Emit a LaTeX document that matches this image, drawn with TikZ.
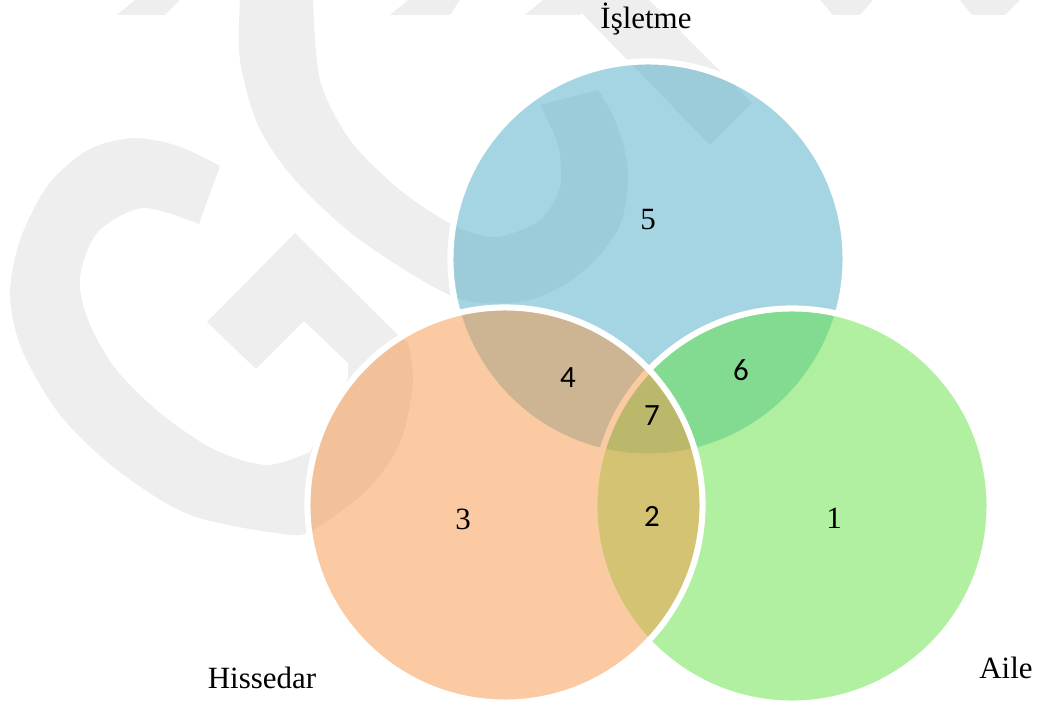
\documentclass[tikz,border=0pt]{standalone}
\usepackage{fontspec}
\setmainfont{Liberation Serif}
\newfontfamily\numsans{Carlito}
\definecolor{isletmeblue}{HTML}{4BACC6}
\definecolor{ailegreen}{HTML}{61E141}
\definecolor{hissedarorange}{HTML}{F79646}
\definecolor{wmgrey}{HTML}{EEEEEE}
\begin{document}
\begin{tikzpicture}[x=0.025cm, y=-0.025cm,
    wm/.style={fill=wmgrey},
    set/.style={fill opacity=0.5},
    rim/.style={draw=white, line width=4.3pt},
    lbl/.style={anchor=base, font=\fontsize{22}{26}\selectfont},
    snum/.style={anchor=base, font=\numsans\fontsize{22}{26}\selectfont}]
  \useasboundingbox (0,0) rectangle (1041,701);
  % watermark
  \fill[wm] plot[smooth] coordinates {(220,166) (178,146) (133,138) (88,150) (48,185) (20,240) (10,295) (22,350) (60,415) (117,470) (190,515) (283,534) (313,530) (367,490) (400,443) (413,383) (408,343)}
    -- (398,335) -- (295,233) -- (207,322) -- (256,369) -- (304,321) -- (348,363) -- (348,378) -- (310,452)
    -- plot[smooth] coordinates {(310,452) (267,465) (215,450) (160,413) (115,368) (88,320) (80,277) (98,232) (143,208) (199,224)} -- cycle;
  \fill[wm] plot[smooth] coordinates {(240,-2) (240,60) (258,125) (295,180) (360,240) (457,298) (530,300) (585,270) (620,225) (628,170) (615,120) (598,90)}
    -- (540,105)
    -- plot[smooth] coordinates {(540,105) (558,145) (560,187) (540,220) (497,237) (455,226) (400,190) (350,140) (320,80) (313,-2)} -- cycle;
  \fill[wm] (567,-2) -- (710,145) -- (752,103) -- (647,-2) -- cycle;
  \fill[wm] (117,15) -- (135,0) -- (180,0) -- (165,15) -- cycle;
  \fill[wm] (390,15) -- (408,0) -- (460,0) -- (450,15) -- cycle;
  \fill[wm] (525,15) -- (543,0) -- (590,0) -- (580,15) -- cycle;
  \fill[wm] (820,0) -- (873,0) -- (860,15) -- (833,15) -- cycle;
  \fill[wm] (960,0) -- (1020,0) -- (1005,15) -- (972,15) -- cycle;
  % sets
  \coordinate (cI) at (648,259);
  \coordinate (cA) at (792,506);
  \coordinate (cH) at (505,505);
  \fill[set, fill=isletmeblue] (cI) circle[radius=4.9375cm];
  \draw[rim] (cI) circle[radius=4.9375cm];
  \fill[set, fill=ailegreen] (cA) circle[radius=4.9375cm];
  \draw[rim] (cA) circle[radius=4.9375cm];
  \fill[set, fill=hissedarorange] (cH) circle[radius=4.9375cm];
  \draw[rim] (cH) circle[radius=4.9375cm];
  % labels
  \node[lbl] (isletme) at (646,29) {İşletme};
  \node[lbl] (hissedar) at (262,689) {Hissedar};
  \node[lbl] (aile) at (1006,678) {Aile};
  \node[lbl] (n5) at (648,230) {5};
  \node[lbl] (n3) at (463,530) {3};
  \node[lbl] (n1) at (834,529) {1};
  \node[snum] (n4) at (568,388) {4};
  \node[snum] (n6) at (741,381) {6};
  \node[snum] (n7) at (652,426) {7};
  \node[snum] (n2) at (652,527) {2};
\end{tikzpicture}
\end{document}
